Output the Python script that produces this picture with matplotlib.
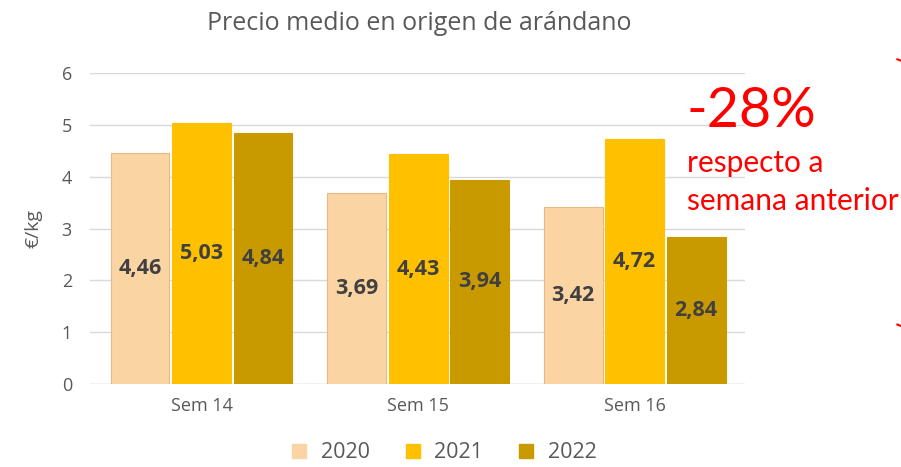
import matplotlib.pyplot as plt
import numpy as np
from matplotlib.lines import Line2D

# Precio medio en origen de arándano
semanas = ["Sem 14", "Sem 15", "Sem 16"]
years = ["2020", "2021", "2022"]
p2020 = [4.46, 3.69, 3.42]
p2021 = [5.03, 4.43, 4.72]
p2022 = [4.84, 3.94, 2.84]
colors = ["#FBD4A3", "#FFC000", "#C99A00"]
edges = ["#E8B985", "#FFC000", "#C99A00"]

plt.rcParams['font.family'] = ['Open Sans', 'DejaVu Sans']

fig = plt.figure(figsize=(9.01, 4.67), dpi=100)
ax = fig.add_axes([0.0999, 0.1777, 0.727, 0.666])

x = np.arange(len(semanas))
w = 0.272
gap = 0.012
for i, vals in enumerate([p2020, p2021, p2022]):
    pos = x + (i - 1) * (w + gap)
    ax.bar(pos, vals, width=w, color=colors[i], edgecolor=edges[i], linewidth=0.8,
           label=years[i], zorder=2)
    for px, v in zip(pos, vals):
        ax.text(px, v / 2, f"{v:.2f}".replace(".", ","), ha="center", va="center",
                fontsize=15.5, fontweight="bold", color="#404040", zorder=3)

ax.set_xlim(-0.515, 2.51)
ax.set_ylim(0, 6)
ax.set_yticks(range(7))
ax.set_xticks(x)
ax.set_xticklabels(semanas)
ax.tick_params(axis="both", length=0, colors="#595959", labelsize=13)
ax.tick_params(axis="y", pad=13)
ax.tick_params(axis="x", pad=9)
ax.grid(axis="y", color="#D9D9D9", linewidth=1, zorder=0)
for s in ax.spines.values():
    s.set_visible(False)
ax.axhline(0, color="#D9D9D9", linewidth=1, zorder=1)

ax.set_ylabel("€/kg", color="#595959", fontsize=14, labelpad=14)
fig.text(0.465, 0.95, "Precio medio en origen de arándano", ha="center", va="center",
         fontsize=18, color="#595959")

handles = [Line2D([], [], marker="s", linestyle="", markersize=10, markerfacecolor=c,
                  markeredgecolor=c) for c in colors]
fig.legend(handles, years, loc="center", bbox_to_anchor=(0.485, 0.03), ncol=3,
           frameon=False, fontsize=15.5, handletextpad=0.0, columnspacing=1.0,
           labelcolor="#595959", borderpad=0.2)

# annotation in red
fig.text(0.762, 0.762, "-28%", color="#FF0000", fontsize=40, ha="left", va="center",
         family=["Lato", "DejaVu Sans"])
fig.text(0.762, 0.650, "respecto a", color="#FF0000", fontsize=21.5, ha="left", va="center",
         family=["Lato", "DejaVu Sans"])
fig.text(0.762, 0.570, "semana anterior", color="#FF0000", fontsize=21.5, ha="left", va="center",
         family=["Lato", "DejaVu Sans"])
fig.add_artist(Line2D([0.996, 1.0], [0.873, 0.870], color="#FF0000", linewidth=1.5))
fig.add_artist(Line2D([0.996, 1.0], [0.305, 0.302], color="#FF0000", linewidth=1.5))

fig.savefig("out.png", dpi=100)
